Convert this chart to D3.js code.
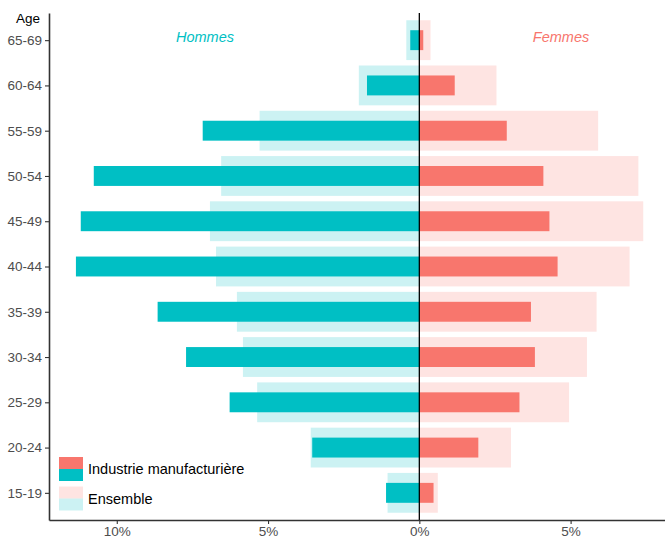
<!DOCTYPE html>
<html lang="fr">
<head>
<meta charset="UTF-8">
<script src="https://d3js.org/d3.v7.min.js"></script>
<style>
  body { margin: 0; background: #fff; }
  text { font-family: "Liberation Sans", Arial, sans-serif; }
</style>
</head>
<body>
<svg width="665" height="540" id="pyramide"></svg>
<script>
// Tranches d'age (du bas vers le haut)
const ages = ["15-19", "20-24", "25-29", "30-34", "35-39", "40-44", "45-49", "50-54", "55-59", "60-64", "65-69"];
// Parts en %
const hommesIndustrie = [1.1, 3.54, 6.27, 7.71, 8.65, 11.35, 11.19, 10.76, 7.16, 1.73, 0.3];
const hommesEnsemble  = [1.05, 3.59, 5.36, 5.83, 6.03, 6.72, 6.92, 6.55, 5.28, 2.0, 0.43];
const femmesIndustrie = [0.47, 1.95, 3.31, 3.82, 3.69, 4.57, 4.3, 4.1, 2.89, 1.17, 0.13];
const femmesEnsemble  = [0.61, 3.03, 4.95, 5.54, 5.86, 6.95, 7.4, 7.24, 5.91, 2.55, 0.37];
const xTicks = [-10, -5, 0, 5];
const legendLabels = ["Industrie manufacturière", "Ensemble"];

const teal = "#00BFC4", red = "#F8766D";

const svg = d3.select("#pyramide");
const plot = { left: 49, right: 665, top: 13, bottom: 520 };

const x = d3.scaleLinear().domain([-12.24, 8.12]).range([plot.left, plot.right]);
const y = d3.scalePoint().domain(ages).range([plot.bottom, plot.top]).padding(0.6);
const step = y.step();
const wideH = step * 0.88, narrowH = step * 0.44;

// barres: Ensemble (clair) puis Industrie par-dessus
function bars(values, sign, color, opacity, h) {
    svg.append("g").selectAll("rect")
        .data(values)
        .enter().append("rect")
        .attr("x", d => sign < 0 ? x(-d) : x(0))
        .attr("width", d => Math.abs(x(d) - x(0)))
        .attr("y", (d, i) => y(ages[i]) - h / 2)
        .attr("height", h)
        .attr("fill", color)
        .attr("fill-opacity", opacity);
}
bars(hommesEnsemble, -1, teal, 0.2, wideH);
bars(femmesEnsemble, 1, red, 0.2, wideH);
bars(hommesIndustrie, -1, teal, 1, narrowH);
bars(femmesIndustrie, 1, red, 1, narrowH);

// ligne du zero
svg.append("line")
    .attr("x1", x(0)).attr("x2", x(0))
    .attr("y1", plot.top).attr("y2", plot.bottom)
    .attr("stroke", "#000").attr("stroke-width", 1.3);

// axe x
const xAxis = svg.append("g")
    .attr("transform", "translate(0," + plot.bottom + ")")
    .call(d3.axisBottom(x).tickValues(xTicks).tickSize(4).tickSizeOuter(0)
        .tickFormat(d => Math.abs(d) + "%"));
xAxis.select(".domain").attr("stroke", "#333").attr("stroke-width", 1.6);
xAxis.selectAll(".tick line").attr("stroke", "#333").attr("stroke-width", 1.1);
xAxis.selectAll(".tick text").attr("fill", "#4d4d4d").style("font-size", "13.5px").attr("y", 6);

// axe y
const yAxis = svg.append("g")
    .attr("transform", "translate(" + plot.left + ",0)")
    .call(d3.axisLeft(y).tickSize(4).tickSizeOuter(0));
yAxis.select(".domain").attr("stroke", "#333").attr("stroke-width", 1.6);
yAxis.selectAll(".tick line").attr("stroke", "#333").attr("stroke-width", 1.1);
yAxis.selectAll(".tick text").attr("fill", "#4d4d4d").style("font-size", "13.5px").attr("x", -7);

// titre de l'axe y
svg.append("text")
    .attr("x", 40).attr("y", 23)
    .attr("text-anchor", "end")
    .style("font-size", "13.5px")
    .text("Age");

// Hommes / Femmes
svg.append("text")
    .attr("x", 205).attr("y", 42)
    .attr("text-anchor", "middle")
    .style("font-size", "14.5px").style("font-style", "italic")
    .attr("fill", teal)
    .text("Hommes");
svg.append("text")
    .attr("x", 561).attr("y", 42)
    .attr("text-anchor", "middle")
    .style("font-size", "14.5px").style("font-style", "italic")
    .attr("fill", red)
    .text("Femmes");

// legende
const legend = svg.append("g").attr("transform", "translate(59,457)");
legendLabels.forEach(function(lab, i) {
    const op = i === 0 ? 1 : 0.2;
    const g = legend.append("g").attr("transform", "translate(0," + (i * 29.5) + ")");
    g.append("rect").attr("width", 24).attr("height", 12).attr("fill", red).attr("fill-opacity", op);
    g.append("rect").attr("y", 12).attr("width", 24).attr("height", 12).attr("fill", teal).attr("fill-opacity", op);
    g.append("text")
        .attr("x", 29).attr("y", 17)
        .style("font-size", "14.5px")
        .text(lab);
});
</script>
</body>
</html>
